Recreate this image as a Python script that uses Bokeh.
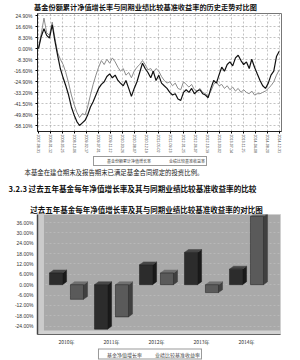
import math
import pandas as pd
from bokeh.plotting import figure
from bokeh.layouts import column
from bokeh.models import (Range1d, FixedTicker, PrintfTickFormatter, Legend, LegendItem,
                          BoxAnnotation, ColumnDataSource)
from bokeh.core.properties import value
from bokeh.embed import file_html
from bokeh.resources import INLINE

CJK = "Noto Sans CJK SC"
LAT = "Liberation Sans"

# ---------------- texts ----------------
title_top = "基金份额累计净值增长率与同期业绩比较基准收益率的历史走势对比图"
note_text = "本基金在建仓期末及报告期末已满足基金合同规定的投资比例。"
heading_text = "3.2.3 过去五年基金每年净值增长率及其与同期业绩比较基准收益率的比较"
title_bottom = "过去五年基金每年净值增长率及其与同期业绩比较基准收益率的对比图"
line_names = ["基金份额累计净值增长率", "业绩比较基准收益率"]
bar_names = ["基金净值增长率", "业绩比较基准收益率"]

# ---------------- top chart data (monthly, %) ----------------
date_tick_labels = ["2007-08-31", "2008-01-12", "2008-05-25", "2008-10-06", "2009-02-17",
                    "2009-07-01", "2009-11-12", "2010-03-26", "2010-08-07", "2010-12-19",
                    "2011-05-02", "2011-09-13", "2012-01-25", "2012-06-07", "2012-10-19",
                    "2013-03-02", "2013-07-14", "2013-11-25", "2014-04-08", "2014-08-20",
                    "2014-12-31"]
fund_cum = [
    0.0, 9.0, 15.0, 10.0, 8.0, 18.0, 6.0, -5.0, -15.0, -22.0,
    -28.0, -35.0, -44.0, -50.0, -55.0, -58.0, -56.0, -54.0, -50.0, -44.0,
    -40.0, -35.0, -30.0, -27.0, -25.0, -21.0, -19.0, -22.0, -20.0, -24.0,
    -26.0, -28.0, -24.0, -30.0, -36.0, -30.0, -25.0, -18.0, -11.0, -15.0,
    -18.0, -22.0, -17.0, -24.0, -20.0, -26.0, -28.0, -30.0, -33.0, -35.0,
    -34.0, -38.0, -39.0, -33.0, -31.0, -33.0, -30.0, -34.0, -32.0, -31.0,
    -34.0, -35.0, -37.0, -30.0, -24.0, -26.0, -20.0, -14.0, -17.0, -12.0,
    -10.0, -13.0, -7.0, -5.0, -9.0, -12.0, -10.0, -15.0, -8.0, -14.0,
    -19.0, -24.0, -28.0, -30.0, -26.0, -20.0, -17.0, -6.0, -2.0]
bench_cum = [
    0.0, 11.0, 23.0, 12.0, 10.0, 20.0, 8.0, -3.0, -8.0, -12.0,
    -18.0, -26.0, -35.0, -42.0, -48.0, -52.0, -49.0, -50.0, -44.0, -35.0,
    -27.0, -20.0, -14.0, -9.0, -12.0, -8.0, -11.0, -7.0, -10.0, -14.0,
    -17.0, -15.0, -20.0, -18.0, -22.0, -17.0, -14.0, -12.0, -9.0, -12.0,
    -16.0, -15.0, -18.0, -15.0, -17.0, -21.0, -24.0, -26.0, -25.0, -28.0,
    -26.0, -30.0, -31.0, -25.0, -27.0, -29.0, -27.0, -31.0, -32.0, -30.0,
    -33.0, -34.0, -36.0, -32.0, -27.0, -25.0, -28.0, -27.0, -30.0, -28.0,
    -31.0, -29.0, -32.0, -30.0, -33.0, -31.0, -33.0, -34.0, -32.0, -35.0,
    -34.0, -34.0, -33.0, -32.0, -30.0, -28.0, -25.0, -20.0, -16.0]
y_ticks_top = [24.9, 16.6, 8.3, 0.0, -8.3, -16.6, -24.9, -33.2, -41.5, -49.8, -58.1]

# ---------------- bottom chart data (%) ----------------
years = ["2010年", "2011年", "2012年", "2013年", "2014年"]
fund_annual = [6.8, -25.8, 11.5, 18.7, 9.0]
bench_annual = [-8.5, -18.7, 6.8, -4.6, 39.6]
y_ticks_bottom = [36, 30, 24, 18, 12, 6, 0, -6, -12, -18, -24]


def to_ms(s):
    return pd.Timestamp(s).value / 1e6


def text_strip(h):
    t = figure(width=300, height=h, output_backend="svg", toolbar_location=None,
               x_range=Range1d(0, 300), y_range=Range1d(h, 0),
               x_axis_location=None, y_axis_location=None, frame_align=False,
               min_border_left=0, min_border_right=0, min_border_top=0, min_border_bottom=0)
    t.grid.visible = False
    t.outline_line_color = None
    return t


# ---------------- header strip ----------------
t1 = text_strip(12)
t1.text(x=[145], y=[6], text=[title_top], text_align="center", text_baseline="middle",
        text_font=value(CJK), text_font_size="7.2px", text_font_style="bold", text_color="#111111")

# ---------------- top chart ----------------
dates = pd.date_range("2007-08-31", periods=len(fund_cum), freq=pd.offsets.MonthEnd())
xs = [d.value / 1e6 for d in dates]
tick_ms = [to_ms(s) for s in date_tick_labels]

p1 = figure(width=300, height=143, output_backend="svg", toolbar_location=None,
            x_range=Range1d(to_ms("2007-08-20"), to_ms("2015-01-25")),
            y_range=Range1d(-62.5, 26.5), frame_align=False,
            min_border_left=37, min_border_right=19, min_border_top=1, min_border_bottom=21)
p1.outline_line_color = "#777777"
p1.xaxis.ticker = FixedTicker(ticks=tick_ms)
p1.xaxis.major_label_overrides = {t: s for t, s in zip(tick_ms, date_tick_labels)}
p1.xaxis.major_label_orientation = -math.pi / 2
p1.yaxis.ticker = FixedTicker(ticks=y_ticks_top)
p1.yaxis.formatter = PrintfTickFormatter(format="%.2f%%")
for ax in (p1.xaxis[0], p1.yaxis[0]):
    ax.major_tick_in = 0
    ax.major_tick_out = 2
    ax.minor_tick_in = 0
    ax.minor_tick_out = 0
    ax.axis_line_color = "#222222"
    ax.major_label_text_font = LAT
    ax.major_label_text_color = "#333333"
p1.xaxis.major_label_text_font_size = "3.6px"
p1.xaxis.major_label_standoff = 1
p1.yaxis.major_label_text_font_size = "5px"
p1.yaxis.major_label_standoff = 3
p1.grid.grid_line_color = "#9a9a9a"
p1.grid.grid_line_dash = "2 2"
p1.grid.grid_line_width = 0.6

src_top = ColumnDataSource(dict(x=xs, fund=fund_cum, bench=bench_cum))
p1.line("x", "bench", source=src_top, line_color="#8c8c8c", line_width=1)
p1.line("x", "fund", source=src_top, line_color="#111111", line_width=1.2)

# ---------------- middle strip: legend of top chart + texts ----------------
t2 = text_strip(59)
lf = t2.line(x=[], y=[], line_color="#111111", line_width=1.2)
lb = t2.line(x=[], y=[], line_color="#8c8c8c", line_width=1)
leg1 = Legend(items=[LegendItem(label=line_names[0], renderers=[lf]),
                     LegendItem(label=line_names[1], renderers=[lb])],
              orientation="horizontal", location="top_center",
              label_text_font=CJK, label_text_font_size="4px", label_height=4,
              glyph_width=10, glyph_height=4, label_standoff=2, spacing=6,
              padding=1, margin=1, border_line_color="#333333", border_line_width=0.8,
              background_fill_alpha=1)
t2.add_layout(leg1)
t2.text(x=[24], y=[17], text=[note_text], text_align="left", text_baseline="middle",
        text_font=value(CJK), text_font_size="6.4px", text_color="#222222")
t2.text(x=[8], y=[33], text=[heading_text], text_align="left", text_baseline="middle",
        text_font=value(CJK), text_font_size="7.6px", text_font_style="bold", text_color="#111111")
t2.text(x=[146], y=[53.5], text=[title_bottom], text_align="center", text_baseline="middle",
        text_font=value(CJK), text_font_size="7.5px", text_font_style="bold", text_color="#111111")

# ---------------- bottom chart ----------------
p2 = figure(width=300, height=133, output_backend="svg", toolbar_location=None,
            x_range=Range1d(-0.644, 4.756), y_range=Range1d(-28.9, 40.7), frame_align=False,
            min_border_left=37, min_border_right=20, min_border_top=0, min_border_bottom=10)
p2.background_fill_color = "#a9a9a9"
p2.outline_line_color = "#d0d0d0"
p2.xgrid.visible = False
p2.ygrid.grid_line_color = "#c2c2c2"
p2.ygrid.grid_line_dash = "2 2"
p2.ygrid.grid_line_width = 0.6
p2.yaxis.ticker = FixedTicker(ticks=y_ticks_bottom)
p2.yaxis.formatter = PrintfTickFormatter(format="%.2f%%")
p2.xaxis.ticker = FixedTicker(ticks=list(range(len(years))))
p2.xaxis.major_label_overrides = {i: y for i, y in enumerate(years)}
for ax in (p2.xaxis[0], p2.yaxis[0]):
    ax.major_tick_in = 0
    ax.major_tick_out = 0
    ax.minor_tick_in = 0
    ax.minor_tick_out = 0
    ax.major_label_text_font = CJK
    ax.major_label_text_font_size = "5px"
    ax.major_label_text_color = "#333333"
p2.yaxis.major_label_text_font = LAT
p2.yaxis.major_label_standoff = 4
p2.yaxis.axis_line_color = "#444444"
p2.yaxis.axis_line_width = 1.5
p2.xaxis.major_label_standoff = 3
p2.xaxis.axis_line_color = "#666666"

# 3D walls (decoration)
p2.add_layout(BoxAnnotation(right=-0.5, fill_color="#cbcbcb", fill_alpha=1,
                            line_color=None, level="underlay"))
p2.add_layout(BoxAnnotation(top=-26.6, fill_color="#d2d2d2", fill_alpha=1,
                            line_color=None, level="underlay"))

BW, OFF, DX, DY = 0.29, 0.233, 0.09, 1.7


def cuboids(vals, shift):
    front = dict(left=[], right=[], bottom=[], top=[])
    tops = dict(xs=[], ys=[])
    sides = dict(xs=[], ys=[])
    for i, v in enumerate(vals):
        c = i + shift
        L, R = c - BW / 2, c + BW / 2
        lo, hi = min(0, v), max(0, v)
        front["left"].append(L); front["right"].append(R)
        front["bottom"].append(lo); front["top"].append(hi)
        tops["xs"].append([L, L + DX, R + DX, R]); tops["ys"].append([hi, hi + DY, hi + DY, hi])
        sides["xs"].append([R, R + DX, R + DX, R]); sides["ys"].append([lo, lo + DY, hi + DY, hi])
    return front, tops, sides


bar_colors = [("#2c2c2c", "#474747", "#1a1a1a"), ("#5a5a5a", "#707070", "#404040")]
for vals, shift, (cf, ct, cs) in [(fund_annual, -OFF, bar_colors[0]),
                                  (bench_annual, OFF, bar_colors[1])]:
    front, tops, sides = cuboids(vals, shift)
    p2.patches(xs="xs", ys="ys", source=ColumnDataSource(sides), fill_color=cs, line_color=cs, line_width=0.5)
    p2.patches(xs="xs", ys="ys", source=ColumnDataSource(tops), fill_color=ct, line_color=ct, line_width=0.5)
    p2.quad(left="left", right="right", bottom="bottom", top="top",
            source=ColumnDataSource(front), fill_color=cf, line_color="#1a1a1a", line_width=0.5)

# ---------------- bottom strip: legend of bottom chart ----------------
t3 = text_strip(13)
sf = t3.square(x=[], y=[], fill_color=bar_colors[0][0], line_color="#1a1a1a")
sb = t3.square(x=[], y=[], fill_color=bar_colors[1][0], line_color="#1a1a1a")
leg2 = Legend(items=[LegendItem(label=bar_names[0], renderers=[sf]),
                     LegendItem(label=bar_names[1], renderers=[sb])],
              orientation="horizontal", location="center",
              label_text_font=CJK, label_text_font_size="5px", label_height=5,
              glyph_width=5, glyph_height=5, label_standoff=2, spacing=6,
              padding=1, margin=0, border_line_color="#333333", border_line_width=0.8)
t3.add_layout(leg2)

layout = column(t1, p1, t2, p2, t3, spacing=0)
open("out.html", "w").write(file_html(layout, INLINE))
